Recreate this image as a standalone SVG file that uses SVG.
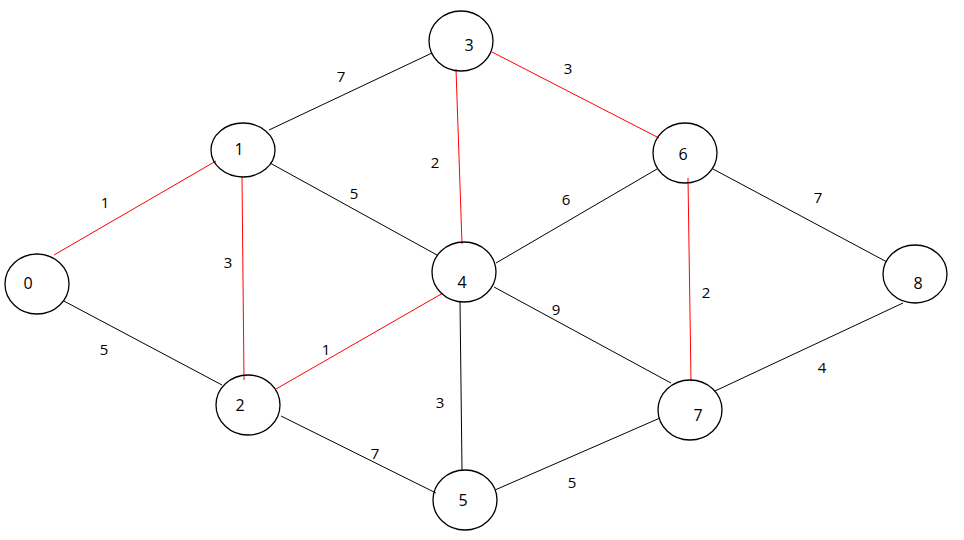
<svg xmlns="http://www.w3.org/2000/svg" width="964" height="540" viewBox="0 0 964 540">
<style>
.n ellipse{fill:#fff;stroke:#000;stroke-width:1.3}
.n text{font-family:"Open Sans","Noto Sans",sans-serif;font-size:16px;fill:#000;text-anchor:middle;dominant-baseline:central}
.e line{stroke:#000;stroke-width:1}
.e line.r{stroke:#f00}
.w text{font-family:"Open Sans","Noto Sans",sans-serif;font-size:15px;fill:#000;text-anchor:middle;dominant-baseline:central}
</style>
<rect width="964" height="540" fill="#fff"/>
<g id="connectors" class="e">
<line class="r" x1="216" y1="161" x2="54" y2="255"/>
<line x1="62" y1="300" x2="222" y2="385"/>
<line class="r" x1="242" y1="177" x2="244" y2="380"/>
<line x1="269" y1="130" x2="432" y2="53"/>
<line x1="270" y1="163" x2="437" y2="255"/>
<line class="r" x1="456" y1="69" x2="462" y2="244"/>
<line class="r" x1="492" y1="52" x2="659" y2="138"/>
<line class="r" x1="443" y1="293" x2="276" y2="389"/>
<line x1="496" y1="263" x2="657" y2="169"/>
<line x1="494" y1="287" x2="671" y2="383"/>
<line x1="460" y1="301" x2="462" y2="471"/>
<line class="r" x1="688" y1="178" x2="691" y2="381"/>
<line x1="713" y1="169" x2="887" y2="262"/>
<line x1="903" y1="303" x2="715" y2="391"/>
<line x1="281" y1="416" x2="436" y2="493"/>
<line x1="495" y1="490" x2="660" y2="418"/>
</g>
<g id="weights" class="w">
<text x="341" y="76">7</text>
<text x="568" y="68">3</text>
<text x="105" y="202">1</text>
<text x="435" y="162">2</text>
<text x="354" y="193">5</text>
<text x="566" y="199">6</text>
<text x="818" y="197">7</text>
<text x="228" y="262">3</text>
<text x="706" y="292">2</text>
<text x="104" y="349">5</text>
<text x="326" y="349">1</text>
<text x="556" y="309">9</text>
<text x="822" y="367">4</text>
<text x="440" y="402">3</text>
<text x="375" y="453">7</text>
<text x="572" y="482">5</text>
</g>
<g id="node0" class="n"><ellipse cx="37" cy="284" rx="32" ry="30" fill="none"/><text x="28" y="283">0</text></g>
<g id="node1" class="n"><ellipse cx="243" cy="150" rx="32" ry="27" style="fill:none"/><text x="239" y="149">1</text></g>
<g id="node2" class="n"><ellipse cx="248" cy="405" rx="32" ry="30" style="fill:none"/><text x="240" y="405">2</text></g>
<g id="node3" class="n"><ellipse cx="461" cy="41" rx="32" ry="30" style="fill:none"/><text x="469" y="45">3</text></g>
<g id="node4" class="n"><ellipse cx="464" cy="272" rx="32" ry="30" style="fill:none"/><text x="462" y="282">4</text></g>
<g id="node5" class="n"><ellipse cx="465" cy="500" rx="32" ry="30" style="fill:none"/><text x="463" y="500">5</text></g>
<g id="node6" class="n"><ellipse cx="685" cy="153" rx="32" ry="30" style="fill:none"/><text x="683" y="154">6</text></g>
<g id="node7" class="n"><ellipse cx="690" cy="410" rx="32" ry="30" style="fill:none"/><text x="698" y="415">7</text></g>
<g id="node8" class="n"><ellipse cx="915" cy="274" rx="32" ry="29" style="fill:none"/><text x="918" y="283">8</text></g>
</svg>
